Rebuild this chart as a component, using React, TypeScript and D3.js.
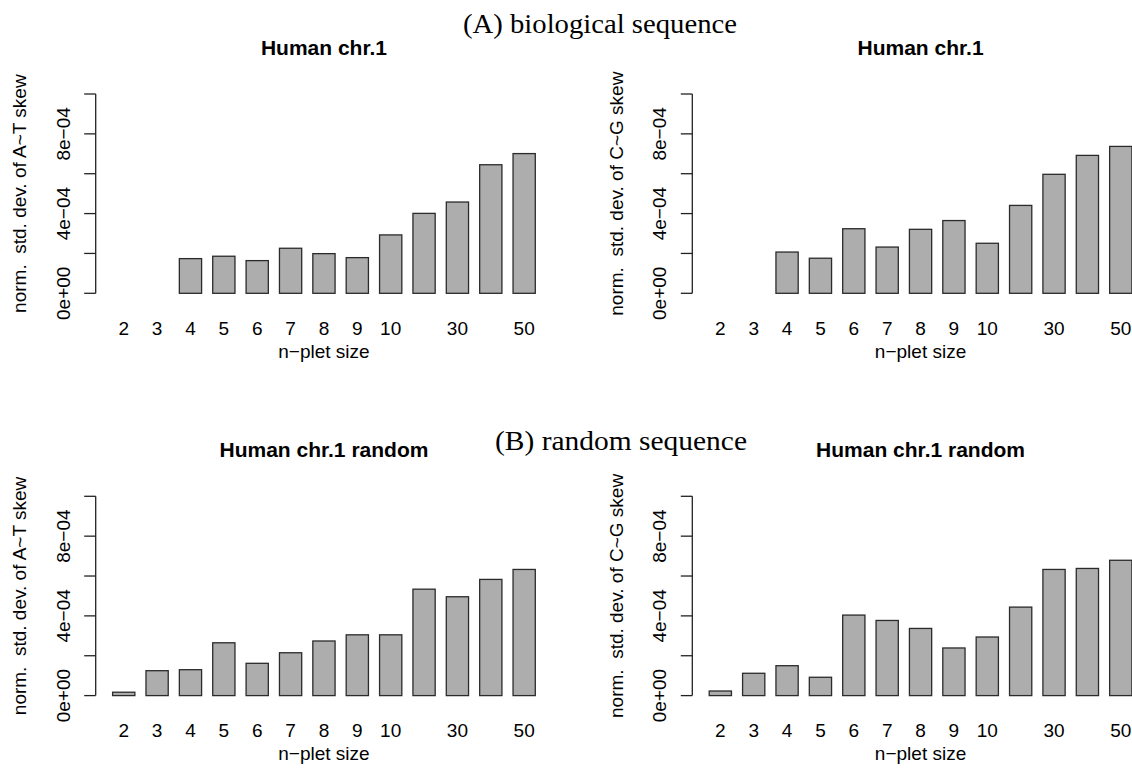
import React from 'react';
import * as d3 from 'd3';

// n-plet sizes on the x axis (R drops the 20 and 40 labels for lack of room)
const categories = ['2', '3', '4', '5', '6', '7', '8', '9', '10', '20', '30', '40', '50'];
const shownLabels = ['2', '3', '4', '5', '6', '7', '8', '9', '10', '30', '50'];

// normalised std. dev. of skew
const bioAT = [0, 0, 1.74e-4, 1.86e-4, 1.64e-4, 2.26e-4, 1.99e-4, 1.79e-4, 2.93e-4, 4.01e-4, 4.58e-4, 6.45e-4, 7.01e-4];
const bioCG = [0, 0, 2.07e-4, 1.76e-4, 3.24e-4, 2.32e-4, 3.21e-4, 3.65e-4, 2.51e-4, 4.41e-4, 5.97e-4, 6.92e-4, 7.37e-4];
const randAT = [0.17e-4, 1.25e-4, 1.3e-4, 2.65e-4, 1.62e-4, 2.15e-4, 2.74e-4, 3.05e-4, 3.05e-4, 5.34e-4, 4.96e-4, 5.83e-4, 6.33e-4];
const randCG = [0.23e-4, 1.12e-4, 1.5e-4, 0.92e-4, 4.04e-4, 3.77e-4, 3.37e-4, 2.39e-4, 2.94e-4, 4.44e-4, 6.33e-4, 6.38e-4, 6.79e-4];

const yTicks = [0, 2e-4, 4e-4, 6e-4, 8e-4, 1e-3];
const yTickLabels = ['0e+00', '', '4e\u221204', '', '8e\u221204', ''];

const panels = [
  { row: 0, col: 0, title: 'Human chr.1', ylab: 'norm.  std. dev. of A~T skew', values: bioAT },
  { row: 0, col: 1, title: 'Human chr.1', ylab: 'norm.  std. dev. of C~G skew', values: bioCG },
  { row: 1, col: 0, title: 'Human chr.1 random', ylab: 'norm.  std. dev. of A~T skew', values: randAT },
  { row: 1, col: 1, title: 'Human chr.1 random', ylab: 'norm.  std. dev. of C~G skew', values: randCG },
];

const W = 1132;
const H = 772;
const colOffset = 596.6;
const rowOffset = 402.3;
const plot = { left: 95.7, right: 552.2, top: 94, bottom: 293.3 };
const SPACE = 0.5; // barplot space, bar width = 1

const sans = '"Liberation Sans", Arial, Helvetica, sans-serif';
const serif = '"Liberation Serif", "DejaVu Serif", serif';

function Panel({ p }) {
  const n = categories.length;
  const xMax = n * (1 + SPACE);
  const pad = 0.04 * (xMax - SPACE);
  const x = d3.scaleLinear().domain([SPACE - pad, xMax + pad]).range([plot.left, plot.right]);
  const y = d3.scaleLinear().domain([0, 1e-3]).range([plot.bottom, plot.top]);
  const barLeft = i => SPACE + i * (1 + SPACE);
  const cx = (plot.left + plot.right) / 2;
  const cy = (plot.top + plot.bottom) / 2;

  return (
    <g transform={`translate(${p.col * colOffset},${p.row * rowOffset})`}>
      <text x={cx} y={55} textAnchor="middle" fontFamily={sans} fontWeight="bold" fontSize={21}>
        {p.title}
      </text>

      {p.values.map((v, i) =>
        v > 0 ? (
          <rect
            key={i}
            x={x(barLeft(i))}
            y={y(v)}
            width={x(barLeft(i) + 1) - x(barLeft(i))}
            height={y(0) - y(v)}
            fill="#adadad"
            stroke="#2b2b2b"
            strokeWidth={1.3}
          />
        ) : null
      )}

      {/* y axis */}
      <line x1={plot.left} x2={plot.left} y1={y(0)} y2={y(1e-3)} stroke="#222" strokeWidth={1.3} />
      {yTicks.map((t, i) => (
        <g key={i}>
          <line x1={plot.left - 11.5} x2={plot.left} y1={y(t)} y2={y(t)} stroke="#222" strokeWidth={1.3} />
          {yTickLabels[i] && (
            <text
              transform={`translate(${plot.left - 26},${y(t)}) rotate(-90)`}
              textAnchor="middle"
              fontFamily={sans}
              fontSize={19}
            >
              {yTickLabels[i]}
            </text>
          )}
        </g>
      ))}
      <text
        transform={`translate(26,${cy}) rotate(-90)`}
        textAnchor="middle"
        fontFamily={sans}
        fontSize={19}
        style={{ whiteSpace: 'pre' }}
      >
        {p.ylab}
      </text>

      {/* x labels, no ticks as in R barplot */}
      {categories.map((c, i) =>
        shownLabels.includes(c) ? (
          <text key={c} x={x(barLeft(i) + 0.5)} y={334.5} textAnchor="middle" fontFamily={sans} fontSize={19}>
            {c}
          </text>
        ) : null
      )}
      <text x={cx} y={358} textAnchor="middle" fontFamily={sans} fontSize={19}>
        n{'\u2212'}plet size
      </text>
    </g>
  );
}

export default function App() {
  return (
    <div style={{ position: 'absolute', left: 0, top: 0 }}>
      <svg width={W} height={H} style={{ display: 'block', background: '#fff' }}>
        <rect width={W} height={H} fill="#fff" />
        <text x={600} y={33} textAnchor="middle" fontFamily={serif} fontSize={27} textLength={274} lengthAdjust="spacingAndGlyphs">
          (A) biological sequence
        </text>
        <text x={621} y={450} textAnchor="middle" fontFamily={serif} fontSize={27} textLength={252} lengthAdjust="spacingAndGlyphs">
          (B) random sequence
        </text>
        {panels.map((p, i) => (
          <Panel key={i} p={p} />
        ))}
      </svg>
    </div>
  );
}
